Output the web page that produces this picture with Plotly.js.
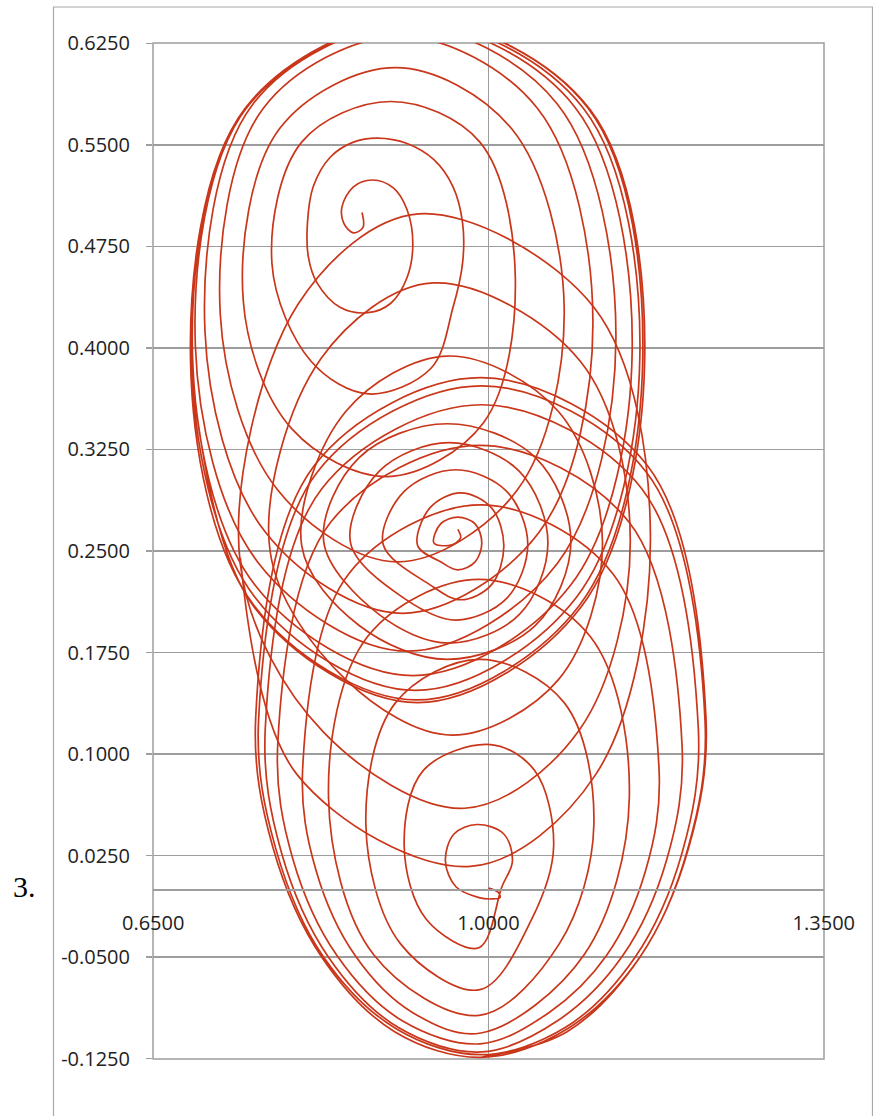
<!DOCTYPE html>
<html>
<head>
<meta charset="utf-8">
<script src="https://cdn.plot.ly/plotly-3.0.1.min.js"></script>
<style>
html,body{margin:0;padding:0;background:#fff;}
#chart{width:873px;height:1116px;}
</style>
</head>
<body>
<div id="chart"></div>
<script>
// Upper spiral (starts near 0.868, 0.500)
const topX = [0.868,0.869,0.859,0.849,0.847,0.859,0.879,0.901,0.915,0.921,0.915,0.898,0.874,0.845,0.821,0.812,0.811,0.817,0.835,0.859,0.884,0.915,0.943,0.963,0.973,0.973,0.963,0.940,0.875,0.815,
 0.774,0.805,0.898,0.991,1.028,0.995,0.895,0.795,
 0.744,0.782,0.903,1.024,1.079,1.030,0.905,0.780,
 0.720,0.765,0.908,1.051,1.109,1.053,0.910,0.767,
 0.704,0.754,0.913,1.072,1.133,1.072,0.916,0.760,
 0.694,0.748,0.919,1.090,1.150,1.086,0.921,0.756,
 0.691,0.747,0.923,1.099,1.158,1.092,0.924,0.756,
 0.690,0.746,0.925,1.104,1.161,1.095,0.925,0.755,
 0.689,0.746,0.926,1.106,1.163,1.097,0.926,0.755,0.689];
const topY = [0.500,0.489,0.485,0.492,0.504,0.519,0.524,0.518,0.502,0.477,0.452,0.433,0.426,0.430,0.448,0.467,0.492,0.519,0.541,0.552,0.555,0.551,0.539,0.519,0.492,0.463,0.430,0.385,0.366,0.390,
 0.462,0.552,0.582,0.552,0.452,0.345,0.305,0.340,
 0.435,0.562,0.607,0.562,0.430,0.295,0.242,0.295,
 0.425,0.577,0.630,0.577,0.419,0.264,0.204,0.264,
 0.413,0.580,0.638,0.580,0.407,0.241,0.176,0.241,
 0.402,0.578,0.640,0.578,0.399,0.225,0.158,0.225,
 0.396,0.577,0.641,0.577,0.394,0.216,0.147,0.216,
 0.392,0.577,0.642,0.577,0.391,0.210,0.140,0.210,
 0.390,0.576,0.642,0.576,0.390,0.209,0.138,0.209,0.390];

// Middle spiral (starts near 0.968, 0.262)
const midX = [0.968,0.971,0.966,0.958,
 0.943,0.950,0.968,0.986,0.993,0.986,0.968,0.950,
 0.926,0.939,0.971,1.003,1.016,1.003,0.971,0.939,
 0.890,0.912,0.966,1.019,1.041,1.019,0.966,0.912,
 0.856,0.886,0.959,1.032,1.062,1.032,0.959,0.886,
 0.828,0.865,0.957,1.049,1.086,1.049,0.957,0.865,
 0.805,0.851,0.958,1.073,1.119,1.073,0.962,0.851,
 0.772,0.825,0.942,1.096,1.148,1.095,0.975,0.828,
 0.741,0.801,0.927,1.110,1.169,1.112,0.981,0.800,0.741];
const midY = [0.266,0.260,0.256,0.254,
 0.256,0.270,0.275,0.270,0.256,0.242,0.236,0.242,
 0.254,0.282,0.293,0.282,0.254,0.225,0.214,0.225,
 0.255,0.294,0.310,0.294,0.255,0.215,0.199,0.215,
 0.256,0.309,0.330,0.309,0.256,0.203,0.182,0.203,
 0.257,0.319,0.344,0.319,0.257,0.195,0.170,0.195,
 0.254,0.353,0.394,0.353,0.256,0.155,0.114,0.155,
 0.250,0.392,0.448,0.390,0.258,0.118,0.060,0.116,
 0.240,0.432,0.499,0.430,0.262,0.085,0.017,0.085,0.245];

// Lower spiral (starts near 1.000, 0.000)
const botX = [1.000,1.010,1.012,1.003,
 0.990,0.966,0.955,0.964,0.988,1.016,1.025,1.014,
 0.990,0.935,0.912,0.932,1.002,1.048,1.068,1.045,
 0.991,0.908,0.872,0.903,0.991,1.079,1.110,1.074,
 0.990,0.880,0.833,0.874,0.990,1.106,1.147,1.100,
 0.992,0.921,0.861,0.820,0.806,0.854,0.992,1.130,1.178,1.164,1.123,1.063,
 0.991,0.910,0.842,0.796,0.780,0.835,0.991,1.147,1.202,1.186,1.140,1.072,
 0.993,0.906,0.833,0.784,0.767,0.826,0.993,1.160,1.219,1.202,1.153,1.080,
 0.993,0.904,0.828,0.778,0.760,0.821,0.993,1.165,1.226,1.208,1.158,1.082,
 0.992,0.902,0.826,0.775,0.757,0.818,0.992,1.166,1.227,1.209,1.158,1.082,0.992];
const botY = [0.001,-0.002,-0.006,-0.007,
 -0.006,0.002,0.021,0.041,0.048,0.041,0.021,0.002,
 -0.043,-0.022,0.032,0.088,0.107,0.088,0.032,-0.022,
 -0.074,-0.040,0.048,0.138,0.170,0.138,0.048,-0.040,
 -0.093,-0.048,0.068,0.187,0.229,0.187,0.068,-0.048,
 -0.106,-0.091,-0.049,0.014,0.089,0.233,0.284,0.233,0.089,0.014,-0.049,-0.091,
 -0.114,-0.097,-0.049,0.022,0.107,0.271,0.328,0.271,0.107,0.022,-0.049,-0.097,
 -0.120,-0.102,-0.050,0.027,0.119,0.296,0.358,0.296,0.119,0.027,-0.050,-0.102,
 -0.122,-0.103,-0.050,0.030,0.125,0.308,0.372,0.308,0.125,0.030,-0.050,-0.103,
 -0.124,-0.105,-0.050,0.031,0.127,0.313,0.378,0.313,0.127,0.031,-0.050,-0.105,-0.124];

const xTickVals = [0.65, 1.0, 1.35];
const xTickText = ['0.6500', '1.0000', '1.3500'];
const yTickVals = [-0.125, -0.05, 0.025, 0.1, 0.175, 0.25, 0.325, 0.4, 0.475, 0.55, 0.625];
const yTickText = ['-0.1250', '-0.0500', '0.0250', '0.1000', '0.1750', '0.2500', '0.3250', '0.4000', '0.4750', '0.5500', '0.6250'];
const figureLabel = '3.';

const xRange = [0.6498, 1.3502];
const yRange = [-0.1252, 0.6252];

const W = 873, H = 1116;
const M = {l: 153, r: 49, t: 43, b: 57};
const PW = W - M.l - M.r, PH = H - M.t - M.b;
function px2paperX(px){ return (px - M.l) / PW; }
function py2paperY(py){ return (H - M.b - py) / PH; }

const lineColor = '#c9361a';
const gridColor = '#9d9d9d';
const tickFont = {family: 'Open Sans, sans-serif', size: 20, color: '#222222'};

function spiral(x, y){
  return {x: x, y: y, type: 'scatter', mode: 'lines', hoverinfo: 'skip',
    line: {color: lineColor, width: 1.7, shape: 'spline', smoothing: 1}};
}

const data = [spiral(topX, topY), spiral(midX, midY), spiral(botX, botY)];

const layout = {
  width: W, height: H,
  margin: M,
  paper_bgcolor: '#ffffff', plot_bgcolor: '#ffffff',
  showlegend: false,
  font: tickFont,
  xaxis: {
    range: xRange, tickmode: 'array', tickvals: xTickVals, ticktext: xTickText,
    anchor: 'free', position: (0 - yRange[0]) / (yRange[1] - yRange[0]),
    showline: true, linecolor: gridColor, linewidth: 1.5,
    showgrid: true, gridcolor: gridColor, gridwidth: 1.5, zeroline: false,
    ticks: 'outside', ticklen: 15, tickcolor: 'rgba(0,0,0,0)',
    tickfont: tickFont
  },
  yaxis: {
    range: yRange, tickmode: 'array', tickvals: yTickVals, ticktext: yTickText,
    showline: false, showgrid: true, gridcolor: gridColor, gridwidth: 1.5, zeroline: false,
    ticks: 'outside', ticklen: 6, tickwidth: 1.5, tickcolor: gridColor,
    ticklabelstandoff: 12,
    tickfont: tickFont
  },
  shapes: [
    {type: 'rect', xref: 'paper', yref: 'paper', x0: 0, x1: 1, y0: 0, y1: 1,
     line: {color: gridColor, width: 1.5}, layer: 'below'},
    {type: 'rect', xref: 'paper', yref: 'paper',
     x0: px2paperX(53.5), x1: px2paperX(872.5), y0: py2paperY(1120), y1: py2paperY(7),
     line: {color: '#a8a8a8', width: 1.2}, layer: 'below'}
  ],
  annotations: [
    {text: figureLabel, xref: 'paper', yref: 'paper', x: px2paperX(24), y: py2paperY(886),
     xanchor: 'center', yanchor: 'middle', showarrow: false,
     font: {family: 'Liberation Serif, serif', size: 30, color: '#000000'}}
  ]
};

Plotly.newPlot('chart', data, layout, {staticPlot: true, displayModeBar: false});
</script>
</body>
</html>
